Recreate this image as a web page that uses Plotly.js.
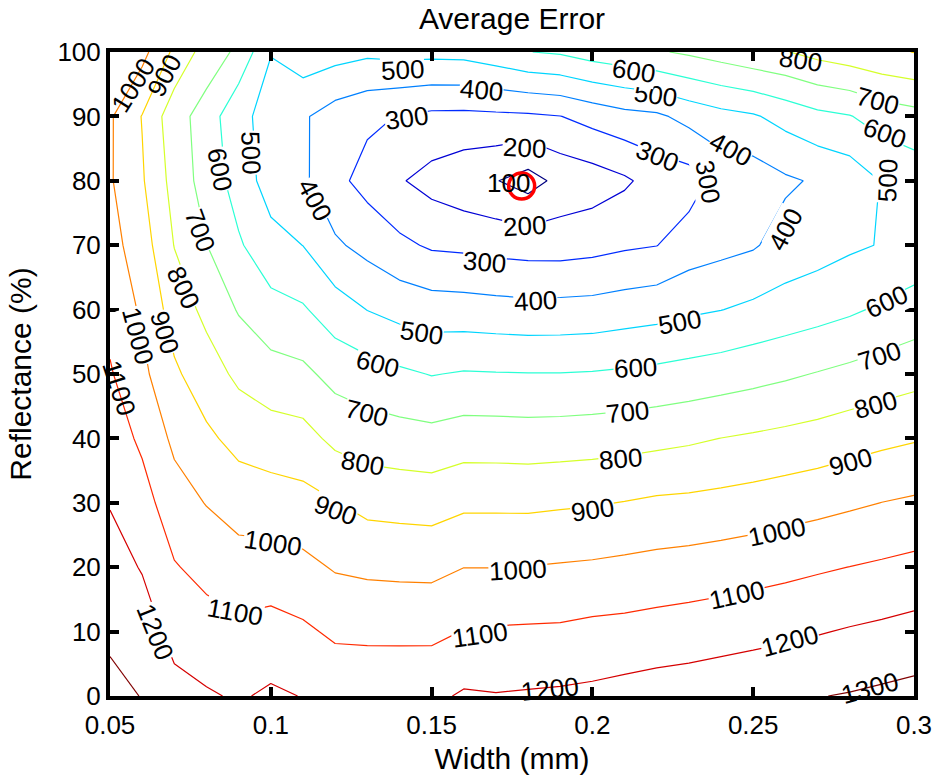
<!DOCTYPE html>
<html>
<head>
<meta charset="utf-8">
<script src="https://cdn.plot.ly/plotly-3.0.1.min.js"></script>
<style>html,body{margin:0;padding:0;background:#fff;}#chart{width:942px;height:781px;}</style>
</head>
<body>
<div id="chart"></div>
<script>
// Width (mm) grid
var widths = [0.05,0.06,0.07,0.08,0.09,0.10,0.11,0.12,0.13,0.14,0.15,0.16,0.17,0.18,0.19,0.20,0.21,0.22,0.23,0.24,0.25,0.26,0.27,0.28,0.29,0.30];
// Reflectance (%) grid
var reflectance = [0,10,20,30,40,50,60,70,80,90,100];
// Average error, one array per reflectance row
var err_r0   = [1327,1297,1231,1210,1190,1215,1197,1175,1175,1177,1178,1212,1205,1210,1215,1222,1235,1246,1252,1263,1274,1286,1297,1306,1318,1330];
var err_r10  = [1283,1246,1169,1141,1123,1138,1117,1083,1079,1078,1078,1103,1110,1113,1115,1126,1131,1141,1150,1160,1170,1181,1194,1208,1220,1234];
var err_r20  = [1239,1194,1107,1070,1043,1043,1026,992,981,977,975,999,999,1002,1008,1014,1023,1032,1040,1050,1061,1074,1088,1101,1114,1128];
var err_r30  = [1195,1139,1043,996,957,947,933,904,871,864,858,881,881,880,887,893,903,916,921,930,941,955,969,985,1001,1014];
var err_r40  = [1152,1082,979,919,869,847,835,776,751,741,733,751,750,747,750,755,762,773,785,801,813,826,840,859,877,892];
var err_r50  = [1109,1024,916,846,779,740,723,667,643,618,596,608,605,603,603,607,615,625,637,651,667,685,705,725,745,765];
var err_r60  = [1070,986,856,775,692,633,611,547,498,466,448,444,437,431,433,437,451,463,484,498,521,542,562,585,615,643];
var err_r70  = [1035,948,797,702,612,536,499,415,369,322,287,280,266,259,257,268,286,298,347,370,390,440,460,485,505,530];
var err_r80  = [1010,910,764,658,558,454,418,328,265,209,165,130,104,60,128,150,185,240,256,336,345,385,412,440,505,540];
var err_r90  = [1012,896,739,659,518,476,412,354,320,296,278,276,281,285,298,335,367,382,431,467,489,534,574,595,642,665];
var err_r100 = [1050,1031,880,755,680,502,559,539,520,530,528,531,560,598,612,645,666,690,715,744,774,795,831,856,883,902];
// Location of the minimum error (red circle)
var minWidth = [0.178];
var minRefl = [79.2];
// Axis tick labels
var xTickVals = [0.05,0.1,0.15,0.2,0.25,0.3];
var xTickText = ['0.05','0.1','0.15','0.2','0.25','0.3'];
var yTickVals = [0,10,20,30,40,50,60,70,80,90,100];
// Contour level labels as placed in the figure: [text, width, reflectance, angle]
var contourLabels = [
  ['1000',0.0572,94.9,-58], ['900',0.0668,96.3,-62], ['500',0.0938,84.3,88], ['600',0.0842,81.7,80],
  ['400',0.1137,77.0,62], ['300',0.1423,89.8,-8], ['400',0.1654,94.1,5], ['500',0.1408,97.2,-3],
  ['200',0.1790,85.1,3], ['100',0.1738,79.7,0], ['200',0.1790,73.0,-3], ['300',0.1663,67.4,5],
  ['400',0.1822,61.3,-3], ['500',0.1470,56.4,8], ['600',0.1333,51.6,14], ['700',0.1299,43.9,14],
  ['800',0.1284,36.2,10], ['900',0.1200,28.9,20], ['1000',0.1007,23.8,8], ['1100',0.0889,13.0,10],
  ['1200',0.0640,9.9,68], ['1000',0.0587,55.9,75], ['900',0.0671,56.4,73], ['800',0.0727,63.5,65],
  ['700',0.0780,72.4,70], ['1100',0.0528,47.8,72], ['1300',0.2863,1.2,-15], ['1200',0.1868,1.1,-6],
  ['1100',0.1650,9.5,-8], ['1200',0.2614,8.5,-15], ['1100',0.2450,15.7,-12], ['1000',0.2574,25.5,-12],
  ['1000',0.1769,19.6,-3], ['900',0.2801,36.3,-15], ['900',0.1999,28.9,-8], ['800',0.2879,45.2,-15],
  ['800',0.2086,36.8,-5], ['700',0.2894,52.8,-18], ['700',0.2108,44.1,-6], ['600',0.2913,61.2,-25],
  ['600',0.2133,50.9,-3], ['500',0.2272,58.1,-10], ['400',0.2599,72.4,-62], ['500',0.2919,80.1,-88],
  ['300',0.2359,79.8,80], ['300',0.2201,83.9,22], ['400',0.2428,84.9,28], ['500',0.2195,93.3,8],
  ['600',0.2129,97.0,8], ['800',0.2646,98.8,8], ['700',0.2888,92.4,15], ['600',0.2907,87.4,20]
];

var zGrid = [err_r0,err_r10,err_r20,err_r30,err_r40,err_r50,err_r60,err_r70,err_r80,err_r90,err_r100];

var jet = [[0,'rgb(0,0,128)'],[0.125,'rgb(0,0,255)'],[0.375,'rgb(0,255,255)'],[0.625,'rgb(255,255,0)'],[0.875,'rgb(255,0,0)'],[1,'rgb(128,0,0)']];
var FONT = 'Liberation Sans, Arial, Helvetica, sans-serif';

var traces = [
  {
    type: 'contour',
    x: widths, y: reflectance, z: zGrid,
    colorscale: jet, showscale: false,
    autocontour: false,
    contours: {start: 100, end: 1300, size: 100, coloring: 'lines', showlabels: false},
    line: {width: 1.2, smoothing: 0},
    hoverinfo: 'skip'
  },
  {
    type: 'scatter', mode: 'markers',
    x: minWidth, y: minRefl,
    marker: {symbol: 'circle-open', size: 26, color: 'rgb(255,0,0)', line: {width: 3.5, color: 'rgb(255,0,0)'}},
    hoverinfo: 'skip', showlegend: false
  }
];

var annotations = contourLabels.map(function (L) {
  var clear = (L[2] < 3 || L[2] > 98 || L[1] < 0.055 || (L[1] < 0.07 && L[2] > 94) || L[0] === '100');
  return {
    x: L[1], y: L[2], xref: 'x', yref: 'y', text: L[0], textangle: L[3],
    showarrow: false, borderpad: 0,
    bgcolor: clear ? 'rgba(255,255,255,0)' : 'white',
    font: {family: FONT, size: 26, color: 'black'}
  };
});

var axisCommon = {
  showline: true, linecolor: 'black', linewidth: 4, mirror: 'ticks',
  ticks: 'inside', ticklen: 9, tickwidth: 4, tickcolor: 'black',
  showgrid: false, zeroline: false,
  tickfont: {family: FONT, size: 26, color: 'black'}
};

var layout = {
  width: 942, height: 781,
  margin: {l: 110, r: 28, t: 52, b: 85},
  paper_bgcolor: 'white', plot_bgcolor: 'white',
  showlegend: false,
  annotations: annotations,
  title: {text: 'Average Error', font: {family: FONT, size: 30, color: 'black'},
          x: 0.5, xref: 'paper', y: 1 - 18/781, yref: 'container', yanchor: 'middle'},
  xaxis: Object.assign({}, axisCommon, {
    range: [0.05, 0.3], tickmode: 'array', tickvals: xTickVals, ticktext: xTickText,
    ticklabelstandoff: 3,
    title: {text: 'Width (mm)', font: {family: FONT, size: 30, color: 'black'}, standoff: 10}
  }),
  yaxis: Object.assign({}, axisCommon, {
    range: [0, 100], tickmode: 'array', tickvals: yTickVals,
    title: {text: 'Reflectance (%)', font: {family: FONT, size: 30, color: 'black'}, standoff: 18}
  })
};

Plotly.newPlot('chart', traces, layout, {staticPlot: true, displayModeBar: false});
</script>
</body>
</html>
